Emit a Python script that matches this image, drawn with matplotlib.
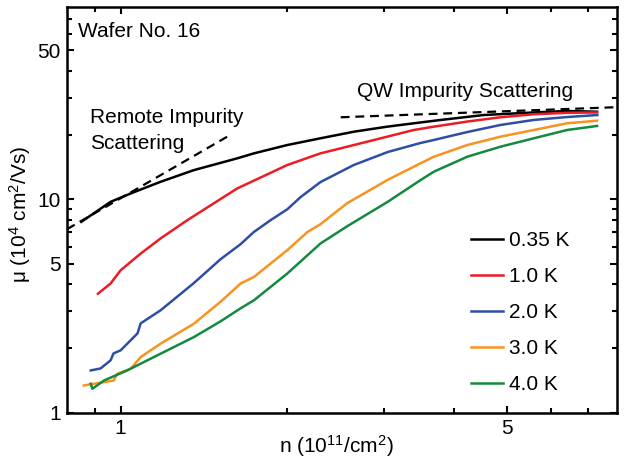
import matplotlib
matplotlib.use("Agg")
import matplotlib.pyplot as plt
from matplotlib.ticker import FixedLocator, NullFormatter, FixedFormatter

plt.rcParams['font.family'] = ['Liberation Sans', 'DejaVu Sans']
plt.rcParams['mathtext.fontset'] = 'custom'
plt.rcParams['mathtext.rm'] = 'Liberation Sans'
plt.rcParams['mathtext.it'] = 'Liberation Sans'
plt.rcParams['mathtext.bf'] = 'Liberation Sans'

labels = ["0.35 K", "1.0 K", "2.0 K", "3.0 K", "4.0 K"]
colors = ["#000000", "#ec1c24", "#2e4ea6", "#f7931e", "#138a3e"]

n_035 = [0.849, 0.959, 1.043, 1.181, 1.357, 1.625, 1.742, 2.001, 2.298, 2.641,
         3.034, 3.39, 3.789, 4.537, 5.586, 6.42, 7.27]
mu_035 = [7.85, 9.74, 10.67, 12.1, 13.73, 15.59, 16.45, 18.0, 19.36, 20.79,
          21.95, 22.77, 23.6, 24.9, 25.6, 26.0, 25.8]

n_10 = [0.910, 0.959, 1.0, 1.087, 1.181, 1.32, 1.625, 2.001, 2.298, 2.641,
        3.034, 3.39, 3.684, 4.234, 4.863, 5.586, 6.42, 7.27]
mu_10 = [3.61, 4.03, 4.65, 5.57, 6.56, 7.99, 11.26, 14.5, 16.45, 18.0,
         19.7, 21.18, 21.95, 23.2, 24.3, 25.1, 25.5, 25.6]

n_20 = [0.883, 0.920, 0.959, 0.971, 1.0, 1.073, 1.087, 1.181, 1.355, 1.516,
        1.648, 1.740, 1.867, 2.003, 2.115, 2.298, 2.639, 3.040, 3.485, 3.681,
        4.237, 4.863, 5.58, 6.43, 7.28]
mu_20 = [1.576, 1.610, 1.756, 1.894, 1.957, 2.352, 2.62, 3.017, 4.04, 5.24,
         6.166, 7.02, 7.99, 9.0, 10.25, 12.06, 14.5, 16.69, 18.4, 19.0,
         20.72, 22.36, 23.6, 24.37, 24.9]

n_30 = [0.858, 0.895, 0.933, 0.972, 0.986, 1.043, 1.087, 1.181, 1.357, 1.516,
        1.648, 1.742, 2.001, 2.175, 2.298, 2.570, 3.034, 3.485, 3.684, 4.234,
        4.863, 5.586, 6.42, 7.27]
mu_30 = [1.339, 1.364, 1.388, 1.413, 1.520, 1.605, 1.820, 2.104, 2.612, 3.308,
         4.03, 4.327, 5.775, 7.02, 7.65, 9.61, 12.32, 14.77, 15.86, 18.0,
         19.7, 21.18, 22.77, 23.42]

n_40 = [0.883, 0.889, 0.933, 1.028, 1.181, 1.357, 1.516, 1.648, 1.742, 2.001,
        2.298, 2.570, 3.034, 3.485, 3.684, 4.234, 4.863, 5.586, 6.42, 7.27]
mu_40 = [1.364, 1.292, 1.413, 1.576, 1.888, 2.26, 2.678, 3.083, 3.362, 4.487,
         6.21, 7.49, 9.71, 12.32, 13.49, 15.86, 17.68, 19.36, 21.18, 22.12]

remote_n = [0.8, 1.58]
remote_mu = [7.25, 20.1]
qw_n = [2.5, 7.9]
qw_mu = [24.3, 27.1]

series_n = [n_035, n_10, n_20, n_30, n_40]
series_mu = [mu_035, mu_10, mu_20, mu_30, mu_40]

fig = plt.figure(figsize=(6.24, 4.61), dpi=100)
ax = fig.add_axes([0.1074, 0.1052, 0.8814, 0.8796])

for xs, ys, c, lab in zip(series_n, series_mu, colors, labels):
    ax.plot(xs, ys, color=c, lw=1.8, label=lab)

ax.plot(remote_n, remote_mu, color='black', lw=1.6, linestyle=(0, (4, 2.6)))
ax.plot(qw_n, qw_mu, color='black', lw=1.6, linestyle=(0, (4, 2.6)), clip_on=True)

ax.set_xscale('log')
ax.set_yscale('log')
ax.set_xlim(0.8, 7.9)
ax.set_ylim(1, 80)

ax.xaxis.set_major_locator(FixedLocator([1, 5]))
ax.xaxis.set_major_formatter(FixedFormatter(["1", "5"]))
ax.xaxis.set_minor_locator(FixedLocator([0.9, 2, 3, 4, 6, 7]))
ax.xaxis.set_minor_formatter(NullFormatter())
ax.yaxis.set_major_locator(FixedLocator([1, 5, 10, 50]))
ax.yaxis.set_major_formatter(FixedFormatter(["1", "5", "10", "50"]))
ax.yaxis.set_minor_locator(FixedLocator([2, 3, 4, 6, 7, 8, 9, 20, 30, 40, 60, 70]))
ax.yaxis.set_minor_formatter(NullFormatter())

ax.tick_params(which='both', direction='in', top=True, right=True,
               labelsize=15, width=1.5, pad=4.5)
ax.tick_params(which='major', length=5)
ax.tick_params(which='minor', length=3.5)
for s in ax.spines.values():
    s.set_linewidth(1.8)

ax.set_xlabel("n (10$^{11}$/cm$^2$)", fontsize=15)
ax.set_ylabel("\u03bc (10$^4$ cm$^2$/Vs)", fontsize=15)
ax.xaxis.set_label_coords(0.49, -0.05)
ax.yaxis.set_label_coords(-0.062, 0.489)

ax.text(0.02, 0.9267, "Wafer No. 16", transform=ax.transAxes, fontsize=15, va='baseline')
ax.text(0.0418, 0.7128, "Remote Impurity", transform=ax.transAxes, fontsize=15, va='baseline')
ax.text(0.0418, 0.651, "Scattering", transform=ax.transAxes, fontsize=15, va='baseline')
ax.text(0.5267, 0.7785, "QW Impurity Scattering", transform=ax.transAxes, fontsize=15, va='baseline')

ax.legend(loc='center left', bbox_to_anchor=(0.734, 0.2464), frameon=False,
          fontsize=15, handlelength=1.54, handletextpad=0.32, labelspacing=0.82,
          borderpad=0, borderaxespad=0)

fig.savefig("out.png", dpi=100)
